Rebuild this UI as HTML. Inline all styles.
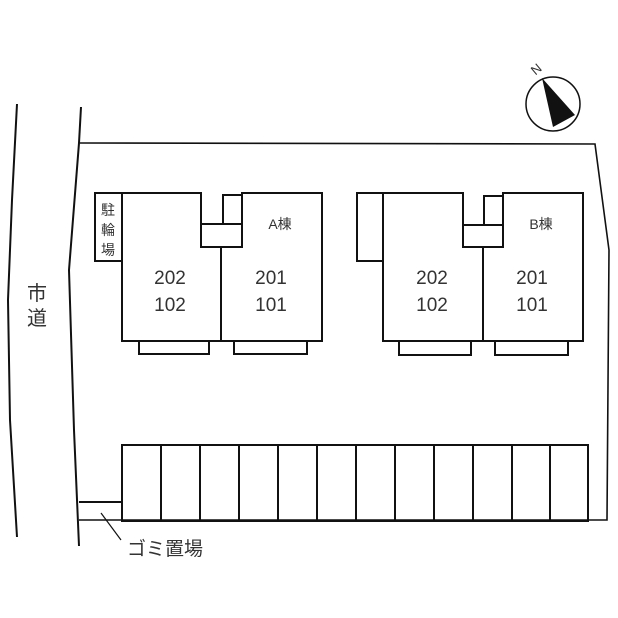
<!DOCTYPE html>
<html><head><meta charset="utf-8"><style>
html,body{margin:0;padding:0;background:#fff}
svg{display:block}
text{font-family:"Liberation Sans","Noto Sans CJK JP",sans-serif;fill:#333}
</style></head><body>
<svg width="618" height="618" viewBox="0 0 618 618" xmlns="http://www.w3.org/2000/svg">
<g fill="none" stroke="#111" stroke-width="2">
<polyline points="17,104 12,200 8,300 10,420 17,537"/>
<polyline points="81,107 79,143 69,270 74,430 79,546"/>
<polyline points="80,143 595,144 609,250 607,520 79,520" stroke-width="1.6"/>
<rect x="122" y="445" width="466" height="76"/>
<g stroke-width="2">
<line x1="161" y1="445" x2="161" y2="521"/><line x1="200" y1="445" x2="200" y2="521"/>
<line x1="239" y1="445" x2="239" y2="521"/><line x1="278" y1="445" x2="278" y2="521"/>
<line x1="317" y1="445" x2="317" y2="521"/><line x1="356" y1="445" x2="356" y2="521"/>
<line x1="395" y1="445" x2="395" y2="521"/><line x1="434" y1="445" x2="434" y2="521"/>
<line x1="473" y1="445" x2="473" y2="521"/><line x1="512" y1="445" x2="512" y2="521"/>
<line x1="550" y1="445" x2="550" y2="521"/>
</g>
<line x1="79" y1="502" x2="122" y2="502"/>
<line x1="101" y1="513" x2="121" y2="540" stroke-width="1.2"/>
<rect x="95" y="193" width="27" height="68"/>
<polygon points="122,193 201,193 201,247 221,247 221,341 122,341"/>
<polygon points="242,193 322,193 322,341 221,341 221,247 242,247"/>
<rect x="201" y="224" width="41" height="23"/>
<rect x="223" y="195" width="19" height="29"/>
<rect x="139" y="341" width="70" height="13"/>
<rect x="234" y="341" width="73" height="13"/>
<rect x="357" y="193" width="26" height="68"/>
<polygon points="383,193 463,193 463,247 483,247 483,341 383,341"/>
<polygon points="503,193 583,193 583,341 483,341 483,247 503,247"/>
<rect x="463" y="225" width="40" height="22"/>
<rect x="484" y="196" width="19" height="29"/>
<rect x="399" y="341" width="72" height="14"/>
<rect x="495" y="341" width="73" height="14"/>
<circle cx="553" cy="104" r="27" stroke-width="1.5"/>
</g>
<polygon points="542,78 575,115 553,127" fill="#111"/>
<text x="532" y="74" font-size="13" transform="rotate(-40 536 70)">N</text>
<text x="170" y="284" font-size="19" text-anchor="middle">202</text>
<text x="170" y="311" font-size="19" text-anchor="middle">102</text>
<text x="271" y="284" font-size="19" text-anchor="middle">201</text>
<text x="271" y="311" font-size="19" text-anchor="middle">101</text>
<text x="280" y="229" font-size="14" text-anchor="middle">A棟</text>
<text x="432" y="284" font-size="19" text-anchor="middle">202</text>
<text x="432" y="311" font-size="19" text-anchor="middle">102</text>
<text x="532" y="284" font-size="19" text-anchor="middle">201</text>
<text x="532" y="311" font-size="19" text-anchor="middle">101</text>
<text x="541" y="229" font-size="14" text-anchor="middle">B棟</text>
<text x="108" y="215" font-size="14" text-anchor="middle">駐</text>
<text x="108" y="235" font-size="14" text-anchor="middle">輪</text>
<text x="108" y="255" font-size="14" text-anchor="middle">場</text>
<text x="37" y="300" font-size="20" text-anchor="middle">市</text>
<text x="37" y="325" font-size="20" text-anchor="middle">道</text>
<text x="127" y="555" font-size="19">ゴミ置場</text>
</svg>
</body></html>
